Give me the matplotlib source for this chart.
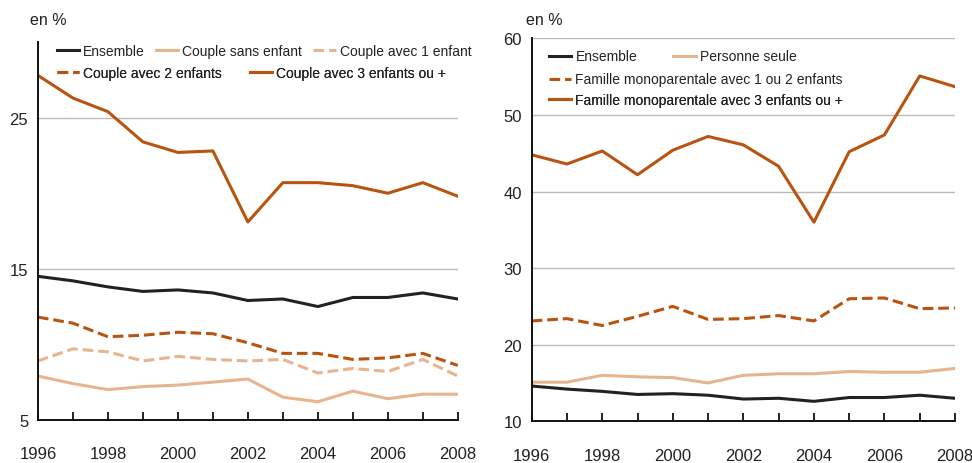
import matplotlib
matplotlib.use("Agg")
import matplotlib.pyplot as plt
import numpy as np

plt.rcParams["font.family"] = ["Liberation Sans Narrow", "Liberation Sans", "DejaVu Sans"]

DARK = "#B8540F"
LIGHT = "#E8B48E"
BLACK = "#222222"
GRID = "#BBBBBB"

years = np.arange(1996, 2009)

# Left panel: couples
ensemble = [14.5, 14.2, 13.8, 13.5, 13.6, 13.4, 12.9, 13.0, 12.5, 13.1, 13.1, 13.4, 13.0]
couple_sans = [7.9, 7.4, 7.0, 7.2, 7.3, 7.5, 7.7, 6.5, 6.2, 6.9, 6.4, 6.7, 6.7]
couple_1 = [8.9, 9.7, 9.5, 8.9, 9.2, 9.0, 8.9, 9.0, 8.1, 8.4, 8.2, 9.0, 7.9]
couple_2 = [11.8, 11.4, 10.5, 10.6, 10.8, 10.7, 10.1, 9.4, 9.4, 9.0, 9.1, 9.4, 8.6]
couple_3 = [27.8, 26.3, 25.4, 23.4, 22.7, 22.8, 18.1, 20.7, 20.7, 20.5, 20.0, 20.7, 19.8]

# Right panel: single persons / single parents
ensemble_r = [14.6, 14.2, 13.9, 13.5, 13.6, 13.4, 12.9, 13.0, 12.6, 13.1, 13.1, 13.4, 13.0]
personne_seule = [15.1, 15.1, 16.0, 15.8, 15.7, 15.0, 16.0, 16.2, 16.2, 16.5, 16.4, 16.4, 16.9]
mono_12 = [23.1, 23.4, 22.5, 23.7, 25.0, 23.3, 23.4, 23.8, 23.1, 26.0, 26.1, 24.7, 24.8]
mono_3 = [44.8, 43.6, 45.3, 42.2, 45.4, 47.2, 46.1, 43.3, 36.0, 45.2, 47.4, 55.1, 53.7]

LW = 2.2
DASH = (3.5, 1.6)
LEG_FS = 10


def style_axes(ax, ylim, yticks):
    ax.set_xlim(1996, 2008)
    ax.set_ylim(*ylim)
    ax.set_yticks(yticks)
    ax.set_xticks(years)
    ax.set_xticklabels([str(y) if (y - 1996) % 2 == 0 else "" for y in years])
    for s in ("top", "right"):
        ax.spines[s].set_visible(False)
    for s in ("left", "bottom"):
        ax.spines[s].set_linewidth(1.4)
        ax.spines[s].set_color("#111111")
    ax.tick_params(axis="y", length=0, pad=7, labelsize=12, labelcolor="#222222")
    ax.tick_params(axis="x", direction="in", length=6, width=1.3, pad=19,
                   labelsize=12, color="#111111", labelcolor="#222222")
    for v in yticks:
        if v > ylim[0]:
            ax.axhline(v, color=GRID, linewidth=1.0, zorder=0)


def row_legend(ax, handles, x, y, ncol, colspacing):
    leg = ax.legend(handles=handles, loc="center left", bbox_to_anchor=(x, y),
                    ncol=ncol, frameon=False, fontsize=LEG_FS, handlelength=1.6,
                    handletextpad=0.3, columnspacing=colspacing,
                    borderpad=0, borderaxespad=0)
    for t in leg.get_texts():
        t.set_color("#222222")
    ax.add_artist(leg)
    return leg


fig = plt.figure(figsize=(9.72, 4.64), dpi=100)

# ---- left panel ----
ax1 = fig.add_axes([0.039, 0.093, 0.432, 0.814])
h_ens, = ax1.plot(years, ensemble, color=BLACK, lw=LW, label="Ensemble")
h_sans, = ax1.plot(years, couple_sans, color=LIGHT, lw=LW, label="Couple sans enfant")
h_c1, = ax1.plot(years, couple_1, color=LIGHT, lw=LW, dashes=DASH, label="Couple avec 1 enfant")
h_c2, = ax1.plot(years, couple_2, color=DARK, lw=LW, dashes=DASH, label="Couple avec 2 enfants")
h_c3, = ax1.plot(years, couple_3, color=DARK, lw=LW, label="Couple avec 3 enfants ou +")
style_axes(ax1, (5, 30), [5, 15, 25])
row_legend(ax1, [h_ens, h_sans, h_c1], 0.045, 0.976, 3, 0.8)
row_legend(ax1, [h_c2, h_c3], 0.045, 0.918, 2, 2.0)
fig.text(0.031, 0.955, "en %", fontsize=11.5, color="#222222", va="center")

# ---- right panel ----
ax2 = fig.add_axes([0.547, 0.090, 0.4355, 0.825])
r_ens, = ax2.plot(years, ensemble_r, color=BLACK, lw=LW, label="Ensemble")
r_ps, = ax2.plot(years, personne_seule, color=LIGHT, lw=LW, label="Personne seule")
r_m12, = ax2.plot(years, mono_12, color=DARK, lw=LW, dashes=DASH,
                  label="Famille monoparentale avec 1 ou 2 enfants")
r_m3, = ax2.plot(years, mono_3, color=DARK, lw=LW,
                 label="Famille monoparentale avec 3 enfants ou +")
style_axes(ax2, (10, 60), [10, 20, 30, 40, 50, 60])
row_legend(ax2, [r_ens, r_ps], 0.041, 0.953, 2, 2.6)
row_legend(ax2, [r_m12], 0.041, 0.893, 1, 1.0)
row_legend(ax2, [r_m3], 0.041, 0.840, 1, 1.0)
fig.text(0.541, 0.955, "en %", fontsize=11.5, color="#222222", va="center")

fig.savefig("out.png", dpi=100)
